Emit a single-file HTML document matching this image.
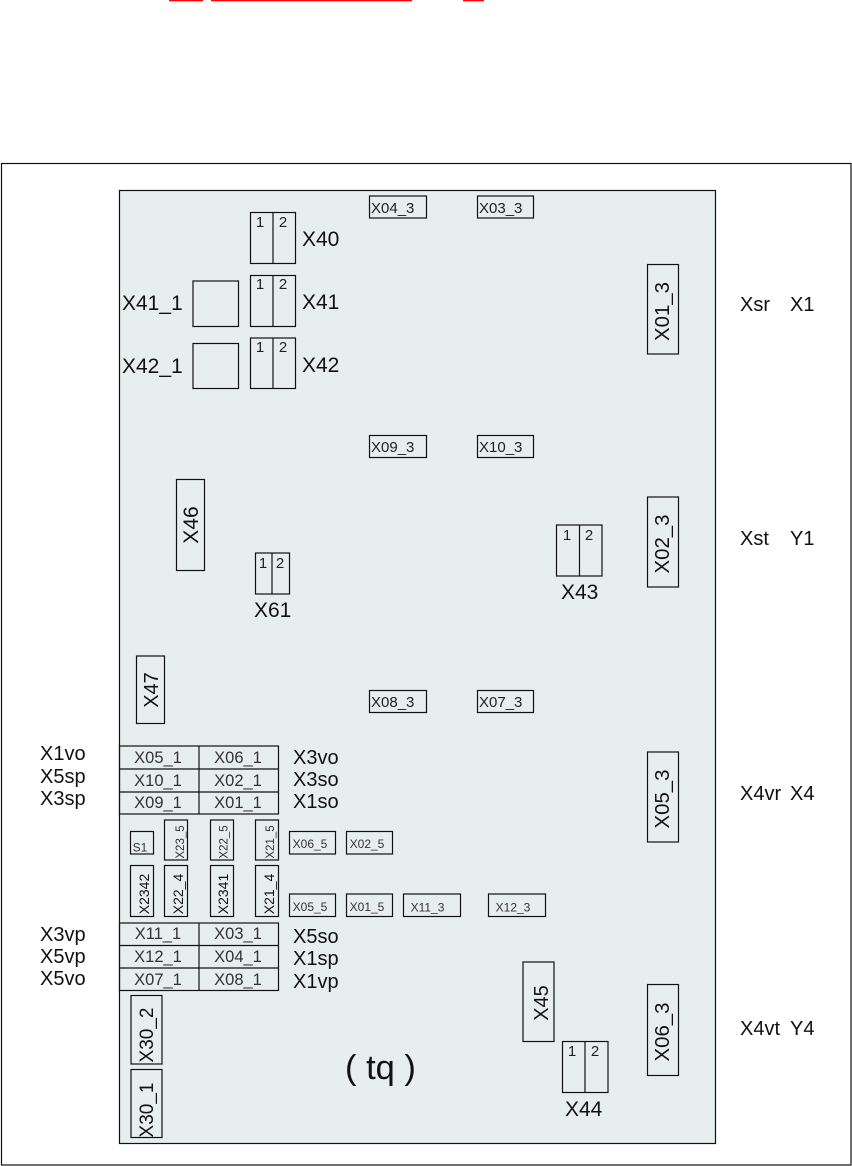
<!DOCTYPE html>
<html><head><meta charset="utf-8">
<style>
html,body{margin:0;padding:0;background:#fff}
svg{display:block}
text{font-family:"Liberation Sans",sans-serif;fill:#111}
rect,line{stroke:#111;stroke-width:1.2;fill:none}
.f{fill:#e7efee}
.a{font-size:20px}
.l{font-size:21px}
.r{font-size:20.4px}
.b{font-size:16.5px;fill:#333}
.c{font-size:15px;fill:#222}
.e{font-size:15px;fill:#222}
.s{font-size:11.5px;fill:#333}
.m{font-size:12px;fill:#333}
.t{font-size:14px;fill:#111}
</style></head><body>
<svg xmlns="http://www.w3.org/2000/svg" width="852" height="1166" viewBox="0 0 852 1166">
<rect x="169" y="0" width="34" height="1.3" style="fill:#f00;stroke:none"/>
<rect x="211" y="0" width="201" height="1.3" style="fill:#f00;stroke:none"/>
<rect x="463" y="0" width="21" height="1.3" style="fill:#f00;stroke:none"/>
<rect x="1.5" y="163.5" width="849.5" height="1001.5"/>
<rect class="f" x="119.5" y="190.5" width="596" height="953"/>

<rect x="369.5" y="196" width="57" height="22"/><rect x="477.5" y="196" width="56" height="22"/>
<rect x="369.5" y="435.5" width="57" height="22"/><rect x="477.5" y="435.5" width="56" height="22"/>
<rect x="369.5" y="690.5" width="57" height="22"/><rect x="477.5" y="690.5" width="56" height="22"/>

<rect x="250.5" y="212.5" width="45" height="51"/><line x1="273" y1="212" x2="273" y2="264"/>
<rect x="250.5" y="275.5" width="45" height="51"/><line x1="273" y1="275" x2="273" y2="326"/>
<rect x="250.5" y="338" width="45" height="50.5"/><line x1="273" y1="338" x2="273" y2="388"/>
<rect x="193" y="281" width="45.5" height="45.5"/><rect x="193" y="343.5" width="45.5" height="45"/>

<rect x="647.5" y="264.5" width="31" height="89.5"/>
<rect x="647.5" y="497" width="31" height="90"/>
<rect x="647.5" y="752" width="31" height="90"/>
<rect x="647.5" y="984.5" width="31" height="91"/>

<rect x="176.5" y="479.5" width="28" height="91"/>
<rect x="255.5" y="553" width="34" height="41"/><line x1="272" y1="553" x2="272" y2="594"/>
<rect x="556.5" y="525" width="45.5" height="51"/><line x1="579.5" y1="525" x2="579.5" y2="576"/>
<rect x="136.5" y="656" width="28" height="67.5"/>

<rect x="119.5" y="746" width="159" height="68"/>
<line x1="119" y1="769" x2="278" y2="769"/><line x1="119" y1="792" x2="278" y2="792"/><line x1="199" y1="746" x2="199" y2="814"/>
<rect x="119.5" y="923" width="159" height="67.5"/>
<line x1="119" y1="945.5" x2="278" y2="945.5"/><line x1="119" y1="968" x2="278" y2="968"/><line x1="199" y1="923" x2="199" y2="990"/>

<rect x="130.5" y="831.5" width="23" height="22.5"/>
<rect x="164.5" y="820" width="23" height="40"/><rect x="210.5" y="820" width="23" height="40"/><rect x="255.5" y="820" width="23" height="40"/>
<rect x="130.5" y="865.5" width="23" height="51"/><rect x="164.5" y="865.5" width="23" height="51"/><rect x="210.5" y="865.5" width="23" height="51"/><rect x="255.5" y="865.5" width="23" height="51"/>
<rect x="289.5" y="831.5" width="46" height="22.5"/><rect x="346.5" y="831.5" width="46" height="22.5"/>
<rect x="289.5" y="894" width="46" height="22.5"/><rect x="346.5" y="894" width="46" height="22.5"/>
<rect x="403.5" y="894" width="57" height="22.5"/><rect x="488.5" y="894" width="57" height="22.5"/>

<rect x="131" y="995.5" width="31" height="68.5"/><rect x="131" y="1069.5" width="31" height="68"/>
<rect x="523" y="962" width="31" height="79.5"/>
<rect x="562.5" y="1041.5" width="45.5" height="51"/><line x1="585" y1="1041" x2="585" y2="1092"/>

<text class="e" x="371" y="213">X04_3</text><text class="e" x="479" y="213">X03_3</text>
<text class="e" x="371" y="452">X09_3</text><text class="e" x="479" y="452">X10_3</text>
<text class="e" x="371" y="707">X08_3</text><text class="e" x="479" y="707">X07_3</text>

<g text-anchor="middle">
<text class="c" x="260" y="227">1</text><text class="c" x="283" y="227">2</text>
<text class="c" x="260" y="289">1</text><text class="c" x="283" y="289">2</text>
<text class="c" x="260" y="352">1</text><text class="c" x="283" y="352">2</text>
<text class="c" x="263" y="568">1</text><text class="c" x="280" y="568">2</text>
<text class="c" x="567" y="540">1</text><text class="c" x="589" y="540">2</text>
<text class="c" x="572" y="1056">1</text><text class="c" x="595" y="1056">2</text>
</g>

<text class="l" x="302" y="246">X40</text>
<text class="l" x="302" y="309">X41</text>
<text class="l" x="302" y="372">X42</text>
<text class="l" x="122" y="310">X41_1</text>
<text class="l" x="122" y="373">X42_1</text>
<text class="l" x="254" y="617">X61</text>
<text class="l" x="561" y="599">X43</text>
<text class="l" x="565" y="1116">X44</text>

<g text-anchor="middle">
<text class="r" transform="translate(669,311.5) rotate(-90)">X01_3</text>
<text class="r" transform="translate(669,544) rotate(-90)">X02_3</text>
<text class="r" transform="translate(669,799) rotate(-90)">X05_3</text>
<text class="r" transform="translate(669,1032) rotate(-90)">X06_3</text>
<text class="l" transform="translate(198,525) rotate(-90)">X46</text>
<text class="a" transform="translate(158,690) rotate(-90)">X47</text>
<text class="a" transform="translate(548,1003) rotate(-90)">X45</text>
<text style="font-size:19px" transform="translate(153,1035) rotate(-90)">X30_2</text>
<text style="font-size:19px" transform="translate(153,1110) rotate(-90)">X30_1</text>
</g>

<g text-anchor="middle">
<text class="b" x="158" y="763">X05_1</text><text class="b" x="238" y="763">X06_1</text>
<text class="b" x="158" y="786">X10_1</text><text class="b" x="238" y="786">X02_1</text>
<text class="b" x="158" y="808">X09_1</text><text class="b" x="238" y="808">X01_1</text>
<text class="b" x="158" y="939">X11_1</text><text class="b" x="238" y="939">X03_1</text>
<text class="b" x="158" y="962">X12_1</text><text class="b" x="238" y="962">X04_1</text>
<text class="b" x="158" y="985">X07_1</text><text class="b" x="238" y="985">X08_1</text>
</g>

<g text-anchor="middle">
<text class="m" x="140" y="851.5">S1</text>
<text class="s" transform="translate(184,842) rotate(-90)">X23_5</text>
<text class="s" transform="translate(227.5,842) rotate(-90)">X22_5</text>
<text class="s" transform="translate(274,842) rotate(-90)">X21_5</text>
<text class="t" transform="translate(149,894) rotate(-90)">X2342</text>
<text class="t" transform="translate(183,894) rotate(-90)">X22_4</text>
<text class="t" transform="translate(228,894) rotate(-90)">X2341</text>
<text class="t" transform="translate(274,894) rotate(-90)">X21_4</text>
<text class="m" x="310" y="848">X06_5</text>
<text class="m" x="367" y="848">X02_5</text>
<text class="m" x="310" y="911">X05_5</text>
<text class="m" x="367" y="911">X01_5</text>
<text class="m" x="427.5" y="911.5">X11_3</text>
<text class="m" x="513" y="911.5">X12_3</text>
</g>

<text class="a" x="293" y="764">X3vo</text>
<text class="a" x="293" y="786">X3so</text>
<text class="a" x="293" y="808">X1so</text>
<text class="a" x="293" y="943">X5so</text>
<text class="a" x="293" y="965">X1sp</text>
<text class="a" x="293" y="988">X1vp</text>

<text class="a" x="40" y="760">X1vo</text>
<text class="a" x="40" y="783">X5sp</text>
<text class="a" x="40" y="805">X3sp</text>
<text class="a" x="40" y="941">X3vp</text>
<text class="a" x="40" y="963">X5vp</text>
<text class="a" x="40" y="985">X5vo</text>

<text class="a" x="740" y="311">Xsr</text><text class="a" x="790" y="311">X1</text>
<text class="a" x="740" y="545">Xst</text><text class="a" x="790" y="545">Y1</text>
<text class="a" x="740" y="800">X4vr</text><text class="a" x="790" y="800">X4</text>
<text class="a" x="740" y="1035">X4vt</text><text class="a" x="790" y="1035">Y4</text>

<text x="345" y="1079" style="font-size:34.5px">( tq )</text>
</svg>
</body></html>
